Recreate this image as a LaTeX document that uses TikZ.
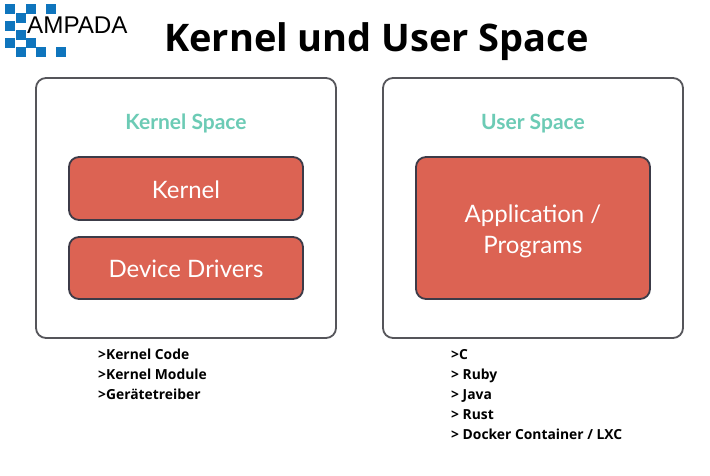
\documentclass[tikz,border=0pt]{standalone}
\usepackage{fontspec}
\setmainfont{Open Sans}
\newfontfamily\slidefont{Lato}
\newfontfamily\logofont{Liberation Sans}
\definecolor{logoblue}{HTML}{0F75BD}
\definecolor{boxred}{HTML}{DC6353}
\definecolor{boxline}{HTML}{3C3B48}
\definecolor{spacegreen}{HTML}{6CCBB5}
\definecolor{frameline}{HTML}{55555A}
\newcommand{\lowered}[2]{\raisebox{-#1}[\height][\depth]{#2}}
\begin{document}
\begin{tikzpicture}[x=1pt, y=-1pt,
    spacebox/.style = {shape=rectangle, rounded corners=10pt, draw=frameline, line width=1.8pt, fill=white, inner sep=0pt},
    redbox/.style = {shape=rectangle, rounded corners=10pt, draw=boxline, line width=1.8pt, fill=boxred, text=white, align=center, inner sep=0pt, font=\slidefont\fontsize{24}{31}\selectfont},
    spacelabel/.style = {anchor=base, text=spacegreen, font=\slidefont\bfseries\fontsize{21}{24}\selectfont},
    notes/.style = {anchor=north west, align=left, inner sep=0pt, font=\bfseries\fontsize{13.85}{20}\selectfont},
    logosquare/.style = {fill=logoblue, minimum size=10pt, inner sep=0pt, shape=rectangle}]
  \useasboundingbox (0,0) rectangle (710,476);
  % logo
  \foreach \px/\py [count=\i] in {10/9, 31/9, 51/9, 21/18, 10/26, 21/35, 10/43, 31/43, 21/52, 41/52, 61/52}
    \node[logosquare] (square\i) at (\px,\py) {};
  \node[anchor=base west, inner sep=0pt, font=\logofont\fontsize{24.2}{28}\selectfont] (logotext) at (27,34) {AMPADA};
  \node[inner sep=0pt, font=\bfseries\fontsize{38}{42}\selectfont] (title) at (376.5,42) {Kernel und User Space};
  % kernel space
  \node[spacebox, minimum width=300pt, minimum height=260pt] (kernelspace) at (186,208) {};
  \node[spacelabel] (kernellabel) at (186,129.5) {Kernel Space};
  \node[redbox, minimum width=234pt, minimum height=63pt] (kernel) at (186,188.5) {\lowered{1pt}{Kernel}};
  \node[redbox, minimum width=234pt, minimum height=62pt] (drivers) at (186,268) {\lowered{1pt}{Device Drivers}};
  % user space
  \node[spacebox, minimum width=300pt, minimum height=260pt] (userspace) at (533,208) {};
  \node[spacelabel] (userlabel) at (533,129.5) {User Space};
  \node[redbox, minimum width=234pt, minimum height=142pt] (programs) at (533,228) {\lowered{3.5pt}{Application /}\\ \lowered{3.5pt}{Programs}};
  % notes
  \node[notes] (kernelnotes) at (98,349) {>Kernel Code\\>Kernel Module\\>Gerätetreiber};
  \node[notes] (usernotes) at (451,349) {>C\\> Ruby\\> Java\\> Rust\\> Docker Container / LXC};
\end{tikzpicture}
\end{document}
